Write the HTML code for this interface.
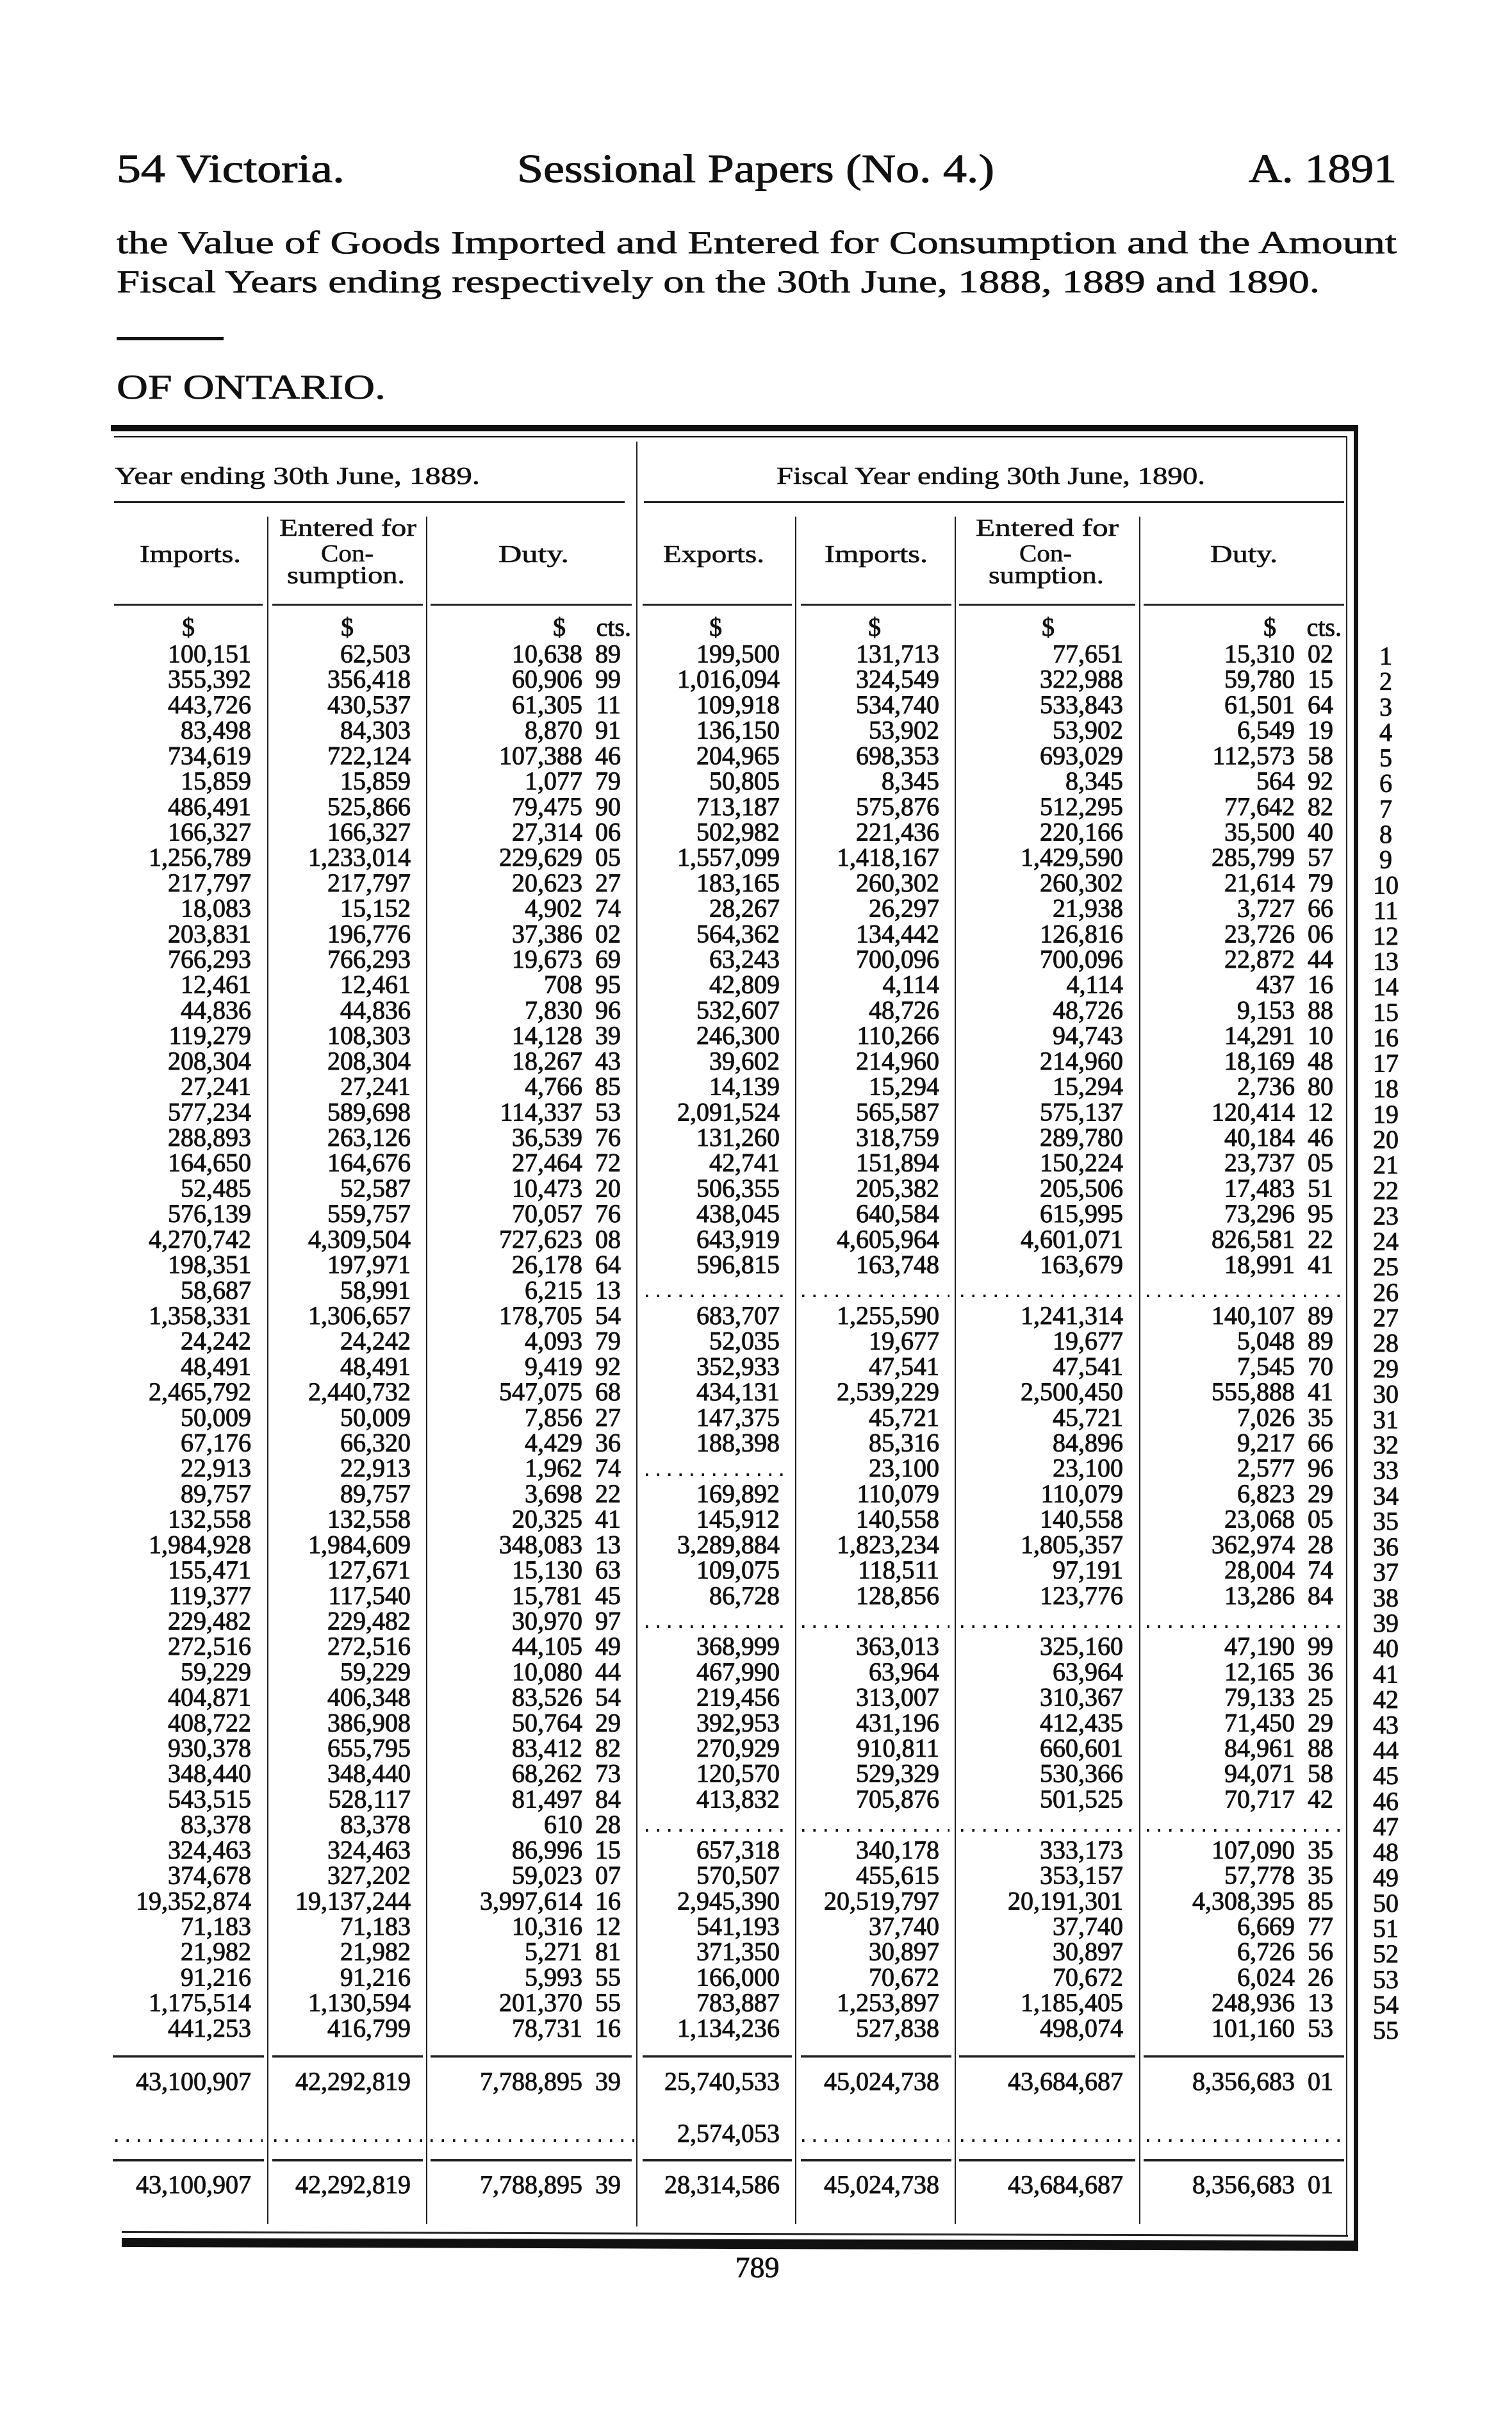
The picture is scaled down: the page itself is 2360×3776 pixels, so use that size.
<!DOCTYPE html>
<html>
<head>
<meta charset="utf-8">
<style>
html,body{margin:0;padding:0;background:#fff;}
body{width:2360px;height:3776px;overflow:hidden;}
svg{display:block;}
text{font-family:"Liberation Serif",serif;fill:#111;}
.d text{font-size:40px;text-anchor:end;stroke:#111;stroke-width:0.9;}
.rn text{font-size:40px;text-anchor:middle;stroke:#111;stroke-width:0.9;}
.h{font-size:38px;stroke:#111;stroke-width:0.6;}
.hc{font-size:38px;stroke:#111;stroke-width:0.6;}
.dot{stroke:#111;stroke-width:4;stroke-dasharray:3.5 14;}
.v{stroke:#222;stroke-width:2;}
</style>
</head>
<body>
<svg width="2360" height="3776" viewBox="0 0 2360 3776" xmlns="http://www.w3.org/2000/svg">
<rect width="2360" height="3776" fill="#fff"/>

<!-- Page header -->
<text x="182" y="284" font-size="62" textLength="356" lengthAdjust="spacingAndGlyphs" stroke="#111" stroke-width="1">54 Victoria.</text>
<text x="807" y="284" font-size="62" textLength="745" lengthAdjust="spacingAndGlyphs" stroke="#111" stroke-width="1">Sessional Papers (No. 4.)</text>
<text x="1949" y="284" font-size="62" textLength="231" lengthAdjust="spacingAndGlyphs" stroke="#111" stroke-width="1">A. 1891</text>

<text x="182" y="395" font-size="50" textLength="1998" lengthAdjust="spacingAndGlyphs" stroke="#111" stroke-width="0.7">the Value of Goods Imported and Entered for Consumption and the Amount</text>
<text x="182" y="456" font-size="50" textLength="1878" lengthAdjust="spacingAndGlyphs" stroke="#111" stroke-width="0.7">Fiscal Years ending respectively on the 30th June, 1888, 1889 and 1890.</text>

<rect x="182" y="526" width="167" height="5" fill="#111"/>

<text x="182" y="622" font-size="54" textLength="420" lengthAdjust="spacingAndGlyphs" stroke="#111" stroke-width="0.7">OF ONTARIO.</text>

<!-- Table frame -->
<rect x="173" y="663" width="1947" height="10" fill="#111"/>
<rect x="178" y="680" width="1924" height="2.5" fill="#222"/>
<rect x="2101" y="681" width="2" height="2809" fill="#222"/>
<rect x="2113" y="663" width="7" height="2849" fill="#111"/>

<!-- year headings -->
<text class="h" x="179" y="755" textLength="570" lengthAdjust="spacingAndGlyphs">Year ending 30th June, 1889.</text>
<text class="h" x="1212" y="755" textLength="669" lengthAdjust="spacingAndGlyphs">Fiscal Year ending 30th June, 1890.</text>

<rect x="178" y="782" width="797" height="3" fill="#222"/>
<rect x="1005" y="782" width="1093" height="3" fill="#222"/>

<!-- column headings -->
<text class="h" x="218" y="877" textLength="158" lengthAdjust="spacingAndGlyphs">Imports.</text>
<text class="h" x="436" y="836" textLength="214" lengthAdjust="spacingAndGlyphs">Entered for</text>
<text class="hc" x="501" y="876" textLength="82" lengthAdjust="spacingAndGlyphs">Con-</text>
<text class="h" x="448" y="910" textLength="184" lengthAdjust="spacingAndGlyphs">sumption.</text>
<text class="h" x="778" y="877" textLength="110" lengthAdjust="spacingAndGlyphs">Duty.</text>
<text class="h" x="1035" y="877" textLength="158" lengthAdjust="spacingAndGlyphs">Exports.</text>
<text class="h" x="1287" y="877" textLength="161" lengthAdjust="spacingAndGlyphs">Imports.</text>
<text class="h" x="1523" y="836" textLength="223" lengthAdjust="spacingAndGlyphs">Entered for</text>
<text class="hc" x="1591" y="876" textLength="82" lengthAdjust="spacingAndGlyphs">Con-</text>
<text class="h" x="1543" y="910" textLength="180" lengthAdjust="spacingAndGlyphs">sumption.</text>
<text class="h" x="1889" y="877" textLength="105" lengthAdjust="spacingAndGlyphs">Duty.</text>

<g fill="#222">
<rect x="178" y="942" width="232" height="3"/>
<rect x="425" y="942" width="235" height="3"/>
<rect x="672" y="942" width="314" height="3"/>
<rect x="1003" y="942" width="233" height="3"/>
<rect x="1250" y="942" width="235" height="3"/>
<rect x="1497" y="942" width="275" height="3"/>
<rect x="1785" y="942" width="313" height="3"/>
</g>

<!-- vertical column rules -->
<line class="v" x1="418" y1="806" x2="418" y2="3470"/>
<line class="v" x1="666" y1="806" x2="666" y2="3470"/>
<line class="v" x1="994" y1="689" x2="994" y2="3474"/>
<line class="v" x1="1242" y1="806" x2="1242" y2="3470"/>
<line class="v" x1="1491" y1="806" x2="1491" y2="3470"/>
<line class="v" x1="1779" y1="806" x2="1779" y2="3470"/>

<!-- $ row -->
<g class="rn">
<text x="294" y="992">$</text>
<text x="542" y="992">$</text>
<text x="873" y="992">$</text>
<text x="1117" y="992">$</text>
<text x="1365" y="992">$</text>
<text x="1636" y="992">$</text>
<text x="1982" y="992">$</text>
</g>
<g class="d">
<text x="985" y="992">cts.</text>
<text x="2094" y="992">cts.</text>
</g>

<!-- data rows -->
<g class="d">
<g transform="translate(0,1033.5)"><text x="392">100,151</text><text x="641">62,503</text><text x="909">10,638</text><text x="969">89</text><text x="1217">199,500</text><text x="1466">131,713</text><text x="1753">77,651</text><text x="2021">15,310</text><text x="2081">02</text></g>
<g transform="translate(0,1073.2)"><text x="392">355,392</text><text x="641">356,418</text><text x="909">60,906</text><text x="969">99</text><text x="1217">1,016,094</text><text x="1466">324,549</text><text x="1753">322,988</text><text x="2021">59,780</text><text x="2081">15</text></g>
<g transform="translate(0,1112.9)"><text x="392">443,726</text><text x="641">430,537</text><text x="909">61,305</text><text x="969">11</text><text x="1217">109,918</text><text x="1466">534,740</text><text x="1753">533,843</text><text x="2021">61,501</text><text x="2081">64</text></g>
<g transform="translate(0,1152.6)"><text x="392">83,498</text><text x="641">84,303</text><text x="909">8,870</text><text x="969">91</text><text x="1217">136,150</text><text x="1466">53,902</text><text x="1753">53,902</text><text x="2021">6,549</text><text x="2081">19</text></g>
<g transform="translate(0,1192.3)"><text x="392">734,619</text><text x="641">722,124</text><text x="909">107,388</text><text x="969">46</text><text x="1217">204,965</text><text x="1466">698,353</text><text x="1753">693,029</text><text x="2021">112,573</text><text x="2081">58</text></g>
<g transform="translate(0,1232.1)"><text x="392">15,859</text><text x="641">15,859</text><text x="909">1,077</text><text x="969">79</text><text x="1217">50,805</text><text x="1466">8,345</text><text x="1753">8,345</text><text x="2021">564</text><text x="2081">92</text></g>
<g transform="translate(0,1271.8)"><text x="392">486,491</text><text x="641">525,866</text><text x="909">79,475</text><text x="969">90</text><text x="1217">713,187</text><text x="1466">575,876</text><text x="1753">512,295</text><text x="2021">77,642</text><text x="2081">82</text></g>
<g transform="translate(0,1311.5)"><text x="392">166,327</text><text x="641">166,327</text><text x="909">27,314</text><text x="969">06</text><text x="1217">502,982</text><text x="1466">221,436</text><text x="1753">220,166</text><text x="2021">35,500</text><text x="2081">40</text></g>
<g transform="translate(0,1351.2)"><text x="392">1,256,789</text><text x="641">1,233,014</text><text x="909">229,629</text><text x="969">05</text><text x="1217">1,557,099</text><text x="1466">1,418,167</text><text x="1753">1,429,590</text><text x="2021">285,799</text><text x="2081">57</text></g>
<g transform="translate(0,1390.9)"><text x="392">217,797</text><text x="641">217,797</text><text x="909">20,623</text><text x="969">27</text><text x="1217">183,165</text><text x="1466">260,302</text><text x="1753">260,302</text><text x="2021">21,614</text><text x="2081">79</text></g>
<g transform="translate(0,1430.6)"><text x="392">18,083</text><text x="641">15,152</text><text x="909">4,902</text><text x="969">74</text><text x="1217">28,267</text><text x="1466">26,297</text><text x="1753">21,938</text><text x="2021">3,727</text><text x="2081">66</text></g>
<g transform="translate(0,1470.3)"><text x="392">203,831</text><text x="641">196,776</text><text x="909">37,386</text><text x="969">02</text><text x="1217">564,362</text><text x="1466">134,442</text><text x="1753">126,816</text><text x="2021">23,726</text><text x="2081">06</text></g>
<g transform="translate(0,1510.0)"><text x="392">766,293</text><text x="641">766,293</text><text x="909">19,673</text><text x="969">69</text><text x="1217">63,243</text><text x="1466">700,096</text><text x="1753">700,096</text><text x="2021">22,872</text><text x="2081">44</text></g>
<g transform="translate(0,1549.7)"><text x="392">12,461</text><text x="641">12,461</text><text x="909">708</text><text x="969">95</text><text x="1217">42,809</text><text x="1466">4,114</text><text x="1753">4,114</text><text x="2021">437</text><text x="2081">16</text></g>
<g transform="translate(0,1589.4)"><text x="392">44,836</text><text x="641">44,836</text><text x="909">7,830</text><text x="969">96</text><text x="1217">532,607</text><text x="1466">48,726</text><text x="1753">48,726</text><text x="2021">9,153</text><text x="2081">88</text></g>
<g transform="translate(0,1629.2)"><text x="392">119,279</text><text x="641">108,303</text><text x="909">14,128</text><text x="969">39</text><text x="1217">246,300</text><text x="1466">110,266</text><text x="1753">94,743</text><text x="2021">14,291</text><text x="2081">10</text></g>
<g transform="translate(0,1668.9)"><text x="392">208,304</text><text x="641">208,304</text><text x="909">18,267</text><text x="969">43</text><text x="1217">39,602</text><text x="1466">214,960</text><text x="1753">214,960</text><text x="2021">18,169</text><text x="2081">48</text></g>
<g transform="translate(0,1708.6)"><text x="392">27,241</text><text x="641">27,241</text><text x="909">4,766</text><text x="969">85</text><text x="1217">14,139</text><text x="1466">15,294</text><text x="1753">15,294</text><text x="2021">2,736</text><text x="2081">80</text></g>
<g transform="translate(0,1748.3)"><text x="392">577,234</text><text x="641">589,698</text><text x="909">114,337</text><text x="969">53</text><text x="1217">2,091,524</text><text x="1466">565,587</text><text x="1753">575,137</text><text x="2021">120,414</text><text x="2081">12</text></g>
<g transform="translate(0,1788.0)"><text x="392">288,893</text><text x="641">263,126</text><text x="909">36,539</text><text x="969">76</text><text x="1217">131,260</text><text x="1466">318,759</text><text x="1753">289,780</text><text x="2021">40,184</text><text x="2081">46</text></g>
<g transform="translate(0,1827.7)"><text x="392">164,650</text><text x="641">164,676</text><text x="909">27,464</text><text x="969">72</text><text x="1217">42,741</text><text x="1466">151,894</text><text x="1753">150,224</text><text x="2021">23,737</text><text x="2081">05</text></g>
<g transform="translate(0,1867.4)"><text x="392">52,485</text><text x="641">52,587</text><text x="909">10,473</text><text x="969">20</text><text x="1217">506,355</text><text x="1466">205,382</text><text x="1753">205,506</text><text x="2021">17,483</text><text x="2081">51</text></g>
<g transform="translate(0,1907.1)"><text x="392">576,139</text><text x="641">559,757</text><text x="909">70,057</text><text x="969">76</text><text x="1217">438,045</text><text x="1466">640,584</text><text x="1753">615,995</text><text x="2021">73,296</text><text x="2081">95</text></g>
<g transform="translate(0,1946.8)"><text x="392">4,270,742</text><text x="641">4,309,504</text><text x="909">727,623</text><text x="969">08</text><text x="1217">643,919</text><text x="1466">4,605,964</text><text x="1753">4,601,071</text><text x="2021">826,581</text><text x="2081">22</text></g>
<g transform="translate(0,1986.5)"><text x="392">198,351</text><text x="641">197,971</text><text x="909">26,178</text><text x="969">64</text><text x="1217">596,815</text><text x="1466">163,748</text><text x="1753">163,679</text><text x="2021">18,991</text><text x="2081">41</text></g>
<g transform="translate(0,2026.3)"><text x="392">58,687</text><text x="641">58,991</text><text x="909">6,215</text><text x="969">13</text></g>
<g transform="translate(0,2066.0)"><text x="392">1,358,331</text><text x="641">1,306,657</text><text x="909">178,705</text><text x="969">54</text><text x="1217">683,707</text><text x="1466">1,255,590</text><text x="1753">1,241,314</text><text x="2021">140,107</text><text x="2081">89</text></g>
<g transform="translate(0,2105.7)"><text x="392">24,242</text><text x="641">24,242</text><text x="909">4,093</text><text x="969">79</text><text x="1217">52,035</text><text x="1466">19,677</text><text x="1753">19,677</text><text x="2021">5,048</text><text x="2081">89</text></g>
<g transform="translate(0,2145.4)"><text x="392">48,491</text><text x="641">48,491</text><text x="909">9,419</text><text x="969">92</text><text x="1217">352,933</text><text x="1466">47,541</text><text x="1753">47,541</text><text x="2021">7,545</text><text x="2081">70</text></g>
<g transform="translate(0,2185.1)"><text x="392">2,465,792</text><text x="641">2,440,732</text><text x="909">547,075</text><text x="969">68</text><text x="1217">434,131</text><text x="1466">2,539,229</text><text x="1753">2,500,450</text><text x="2021">555,888</text><text x="2081">41</text></g>
<g transform="translate(0,2224.8)"><text x="392">50,009</text><text x="641">50,009</text><text x="909">7,856</text><text x="969">27</text><text x="1217">147,375</text><text x="1466">45,721</text><text x="1753">45,721</text><text x="2021">7,026</text><text x="2081">35</text></g>
<g transform="translate(0,2264.5)"><text x="392">67,176</text><text x="641">66,320</text><text x="909">4,429</text><text x="969">36</text><text x="1217">188,398</text><text x="1466">85,316</text><text x="1753">84,896</text><text x="2021">9,217</text><text x="2081">66</text></g>
<g transform="translate(0,2304.2)"><text x="392">22,913</text><text x="641">22,913</text><text x="909">1,962</text><text x="969">74</text><text x="1466">23,100</text><text x="1753">23,100</text><text x="2021">2,577</text><text x="2081">96</text></g>
<g transform="translate(0,2343.9)"><text x="392">89,757</text><text x="641">89,757</text><text x="909">3,698</text><text x="969">22</text><text x="1217">169,892</text><text x="1466">110,079</text><text x="1753">110,079</text><text x="2021">6,823</text><text x="2081">29</text></g>
<g transform="translate(0,2383.6)"><text x="392">132,558</text><text x="641">132,558</text><text x="909">20,325</text><text x="969">41</text><text x="1217">145,912</text><text x="1466">140,558</text><text x="1753">140,558</text><text x="2021">23,068</text><text x="2081">05</text></g>
<g transform="translate(0,2423.4)"><text x="392">1,984,928</text><text x="641">1,984,609</text><text x="909">348,083</text><text x="969">13</text><text x="1217">3,289,884</text><text x="1466">1,823,234</text><text x="1753">1,805,357</text><text x="2021">362,974</text><text x="2081">28</text></g>
<g transform="translate(0,2463.1)"><text x="392">155,471</text><text x="641">127,671</text><text x="909">15,130</text><text x="969">63</text><text x="1217">109,075</text><text x="1466">118,511</text><text x="1753">97,191</text><text x="2021">28,004</text><text x="2081">74</text></g>
<g transform="translate(0,2502.8)"><text x="392">119,377</text><text x="641">117,540</text><text x="909">15,781</text><text x="969">45</text><text x="1217">86,728</text><text x="1466">128,856</text><text x="1753">123,776</text><text x="2021">13,286</text><text x="2081">84</text></g>
<g transform="translate(0,2542.5)"><text x="392">229,482</text><text x="641">229,482</text><text x="909">30,970</text><text x="969">97</text></g>
<g transform="translate(0,2582.2)"><text x="392">272,516</text><text x="641">272,516</text><text x="909">44,105</text><text x="969">49</text><text x="1217">368,999</text><text x="1466">363,013</text><text x="1753">325,160</text><text x="2021">47,190</text><text x="2081">99</text></g>
<g transform="translate(0,2621.9)"><text x="392">59,229</text><text x="641">59,229</text><text x="909">10,080</text><text x="969">44</text><text x="1217">467,990</text><text x="1466">63,964</text><text x="1753">63,964</text><text x="2021">12,165</text><text x="2081">36</text></g>
<g transform="translate(0,2661.6)"><text x="392">404,871</text><text x="641">406,348</text><text x="909">83,526</text><text x="969">54</text><text x="1217">219,456</text><text x="1466">313,007</text><text x="1753">310,367</text><text x="2021">79,133</text><text x="2081">25</text></g>
<g transform="translate(0,2701.3)"><text x="392">408,722</text><text x="641">386,908</text><text x="909">50,764</text><text x="969">29</text><text x="1217">392,953</text><text x="1466">431,196</text><text x="1753">412,435</text><text x="2021">71,450</text><text x="2081">29</text></g>
<g transform="translate(0,2741.0)"><text x="392">930,378</text><text x="641">655,795</text><text x="909">83,412</text><text x="969">82</text><text x="1217">270,929</text><text x="1466">910,811</text><text x="1753">660,601</text><text x="2021">84,961</text><text x="2081">88</text></g>
<g transform="translate(0,2780.7)"><text x="392">348,440</text><text x="641">348,440</text><text x="909">68,262</text><text x="969">73</text><text x="1217">120,570</text><text x="1466">529,329</text><text x="1753">530,366</text><text x="2021">94,071</text><text x="2081">58</text></g>
<g transform="translate(0,2820.5)"><text x="392">543,515</text><text x="641">528,117</text><text x="909">81,497</text><text x="969">84</text><text x="1217">413,832</text><text x="1466">705,876</text><text x="1753">501,525</text><text x="2021">70,717</text><text x="2081">42</text></g>
<g transform="translate(0,2860.2)"><text x="392">83,378</text><text x="641">83,378</text><text x="909">610</text><text x="969">28</text></g>
<g transform="translate(0,2899.9)"><text x="392">324,463</text><text x="641">324,463</text><text x="909">86,996</text><text x="969">15</text><text x="1217">657,318</text><text x="1466">340,178</text><text x="1753">333,173</text><text x="2021">107,090</text><text x="2081">35</text></g>
<g transform="translate(0,2939.6)"><text x="392">374,678</text><text x="641">327,202</text><text x="909">59,023</text><text x="969">07</text><text x="1217">570,507</text><text x="1466">455,615</text><text x="1753">353,157</text><text x="2021">57,778</text><text x="2081">35</text></g>
<g transform="translate(0,2979.3)"><text x="392">19,352,874</text><text x="641">19,137,244</text><text x="909">3,997,614</text><text x="969">16</text><text x="1217">2,945,390</text><text x="1466">20,519,797</text><text x="1753">20,191,301</text><text x="2021">4,308,395</text><text x="2081">85</text></g>
<g transform="translate(0,3019.0)"><text x="392">71,183</text><text x="641">71,183</text><text x="909">10,316</text><text x="969">12</text><text x="1217">541,193</text><text x="1466">37,740</text><text x="1753">37,740</text><text x="2021">6,669</text><text x="2081">77</text></g>
<g transform="translate(0,3058.7)"><text x="392">21,982</text><text x="641">21,982</text><text x="909">5,271</text><text x="969">81</text><text x="1217">371,350</text><text x="1466">30,897</text><text x="1753">30,897</text><text x="2021">6,726</text><text x="2081">56</text></g>
<g transform="translate(0,3098.4)"><text x="392">91,216</text><text x="641">91,216</text><text x="909">5,993</text><text x="969">55</text><text x="1217">166,000</text><text x="1466">70,672</text><text x="1753">70,672</text><text x="2021">6,024</text><text x="2081">26</text></g>
<g transform="translate(0,3138.1)"><text x="392">1,175,514</text><text x="641">1,130,594</text><text x="909">201,370</text><text x="969">55</text><text x="1217">783,887</text><text x="1466">1,253,897</text><text x="1753">1,185,405</text><text x="2021">248,936</text><text x="2081">13</text></g>
<g transform="translate(0,3177.8)"><text x="392">441,253</text><text x="641">416,799</text><text x="909">78,731</text><text x="969">16</text><text x="1217">1,134,236</text><text x="1466">527,838</text><text x="1753">498,074</text><text x="2021">101,160</text><text x="2081">53</text></g>
</g>

<!-- dotted leaders in data rows -->
<g>
<line class="dot" x1="1008" y1="2022" x2="1230" y2="2022"/>
<line class="dot" x1="1252" y1="2022" x2="1482" y2="2022"/>
<line class="dot" x1="1500" y1="2022" x2="1768" y2="2022"/>
<line class="dot" x1="1790" y1="2022" x2="2094" y2="2022"/>

<line class="dot" x1="1008" y1="2301" x2="1230" y2="2301"/>

<line class="dot" x1="1008" y1="2538" x2="1230" y2="2538"/>
<line class="dot" x1="1252" y1="2538" x2="1482" y2="2538"/>
<line class="dot" x1="1500" y1="2538" x2="1768" y2="2538"/>
<line class="dot" x1="1790" y1="2538" x2="2094" y2="2538"/>

<line class="dot" x1="1008" y1="2856" x2="1230" y2="2856"/>
<line class="dot" x1="1252" y1="2856" x2="1482" y2="2856"/>
<line class="dot" x1="1500" y1="2856" x2="1768" y2="2856"/>
<line class="dot" x1="1790" y1="2856" x2="2094" y2="2856"/>
</g>

<!-- row numbers -->
<g class="rn" transform="translate(0,-4)">
<text x="2163" y="1041">1</text>
<text x="2163" y="1080.7">2</text>
<text x="2163" y="1120.4">3</text>
<text x="2163" y="1160.1">4</text>
<text x="2163" y="1199.8">5</text>
<text x="2163" y="1239.6">6</text>
<text x="2163" y="1279.3">7</text>
<text x="2163" y="1319">8</text>
<text x="2163" y="1358.7">9</text>
<text x="2163" y="1398.4">10</text>
<text x="2163" y="1438.1">11</text>
<text x="2163" y="1477.8">12</text>
<text x="2163" y="1517.5">13</text>
<text x="2163" y="1557.2">14</text>
<text x="2163" y="1596.9">15</text>
<text x="2163" y="1636.7">16</text>
<text x="2163" y="1676.4">17</text>
<text x="2163" y="1716.1">18</text>
<text x="2163" y="1755.8">19</text>
<text x="2163" y="1795.5">20</text>
<text x="2163" y="1835.2">21</text>
<text x="2163" y="1874.9">22</text>
<text x="2163" y="1914.6">23</text>
<text x="2163" y="1954.3">24</text>
<text x="2163" y="1994">25</text>
<text x="2163" y="2033.8">26</text>
<text x="2163" y="2073.5">27</text>
<text x="2163" y="2113.2">28</text>
<text x="2163" y="2152.9">29</text>
<text x="2163" y="2192.6">30</text>
<text x="2163" y="2232.3">31</text>
<text x="2163" y="2272">32</text>
<text x="2163" y="2311.7">33</text>
<text x="2163" y="2351.4">34</text>
<text x="2163" y="2391.1">35</text>
<text x="2163" y="2430.9">36</text>
<text x="2163" y="2470.6">37</text>
<text x="2163" y="2510.3">38</text>
<text x="2163" y="2550">39</text>
<text x="2163" y="2589.7">40</text>
<text x="2163" y="2629.4">41</text>
<text x="2163" y="2669.1">42</text>
<text x="2163" y="2708.8">43</text>
<text x="2163" y="2748.5">44</text>
<text x="2163" y="2788.2">45</text>
<text x="2163" y="2828">46</text>
<text x="2163" y="2867.7">47</text>
<text x="2163" y="2907.4">48</text>
<text x="2163" y="2947.1">49</text>
<text x="2163" y="2986.8">50</text>
<text x="2163" y="3026.5">51</text>
<text x="2163" y="3066.2">52</text>
<text x="2163" y="3105.9">53</text>
<text x="2163" y="3145.6">54</text>
<text x="2163" y="3185.3">55</text>
</g>

<!-- totals rules -->
<g fill="#222">
<rect x="176" y="3207" width="236" height="3.5"/>
<rect x="425" y="3207" width="235" height="3.5"/>
<rect x="672" y="3207" width="314" height="3.5"/>
<rect x="1003" y="3207" width="233" height="3.5"/>
<rect x="1250" y="3207" width="235" height="3.5"/>
<rect x="1497" y="3207" width="275" height="3.5"/>
<rect x="1785" y="3207" width="313" height="3.5"/>

<rect x="176" y="3369" width="236" height="3.5"/>
<rect x="425" y="3369" width="235" height="3.5"/>
<rect x="672" y="3369" width="314" height="3.5"/>
<rect x="1003" y="3369" width="233" height="3.5"/>
<rect x="1250" y="3369" width="235" height="3.5"/>
<rect x="1497" y="3369" width="275" height="3.5"/>
<rect x="1785" y="3369" width="313" height="3.5"/>
</g>

<g class="d">
<g transform="translate(0,3261)"><text x="392">43,100,907</text><text x="641">42,292,819</text><text x="909">7,788,895</text><text x="969">39</text><text x="1217">25,740,533</text><text x="1466">45,024,738</text><text x="1753">43,684,687</text><text x="2021">8,356,683</text><text x="2081">01</text></g>
<g transform="translate(0,3342)"><text x="1217">2,574,053</text></g>
<g transform="translate(0,3422)"><text x="392">43,100,907</text><text x="641">42,292,819</text><text x="909">7,788,895</text><text x="969">39</text><text x="1217">28,314,586</text><text x="1466">45,024,738</text><text x="1753">43,684,687</text><text x="2021">8,356,683</text><text x="2081">01</text></g>
</g>

<g>
<line class="dot" x1="180" y1="3340" x2="410" y2="3340"/>
<line class="dot" x1="428" y1="3340" x2="660" y2="3340"/>
<line class="dot" x1="672" y1="3340" x2="990" y2="3340"/>
<line class="dot" x1="1252" y1="3340" x2="1482" y2="3340"/>
<line class="dot" x1="1500" y1="3340" x2="1768" y2="3340"/>
<line class="dot" x1="1790" y1="3340" x2="2094" y2="3340"/>
</g>

<!-- bottom rules -->
<polygon points="190,3481 2104,3487 2104,3490 190,3484" fill="#222"/>
<polygon points="190,3492 2120,3496 2120,3512 190,3506" fill="#111"/>

<!-- page number -->
<text x="1182" y="3553" font-size="46" text-anchor="middle" stroke="#111" stroke-width="0.8">789</text>
</svg>
</body>
</html>
